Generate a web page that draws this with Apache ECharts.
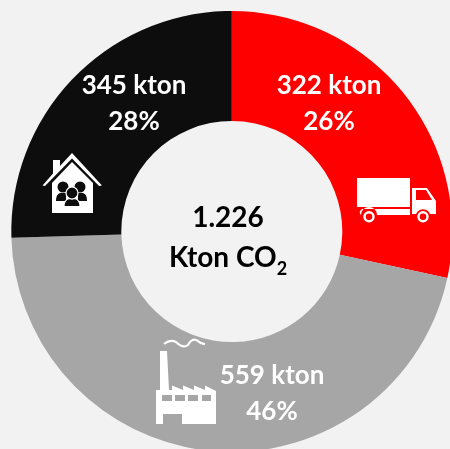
<!DOCTYPE html>
<html><head><meta charset="utf-8">
<style>html,body{margin:0;padding:0;background:#f2f2f2}#c{width:450px;height:449px}</style>
<script src="https://cdn.jsdelivr.net/npm/echarts@6/dist/echarts.min.js"></script></head>
<body><div id="c"></div>
<script>
const categories = ['Transport', 'Industry', 'Households'];
// arc sizes as drawn in the picture (they differ slightly from the printed amounts)
const arcValues = [348, 566, 312];
const amounts = ['322 kton', '559 kton', '345 kton'];
const shares = ['26%', '46%', '28%'];
const colors = ['#ff0000', '#a6a6a6', '#0d0d0d'];
const totalLines = ['1.226', 'Kton CO'];

const labelPos = [[329, 103.5], [272, 393.5], [134, 103.5]];
const font = 'Lato';
const ringCenter = [231.8, 231.5];

const truck = 'M357 178H410V207H357Z M412 188H427L436 201V214H430A7.5 7.5 0 0 0 416 214H412Z M416 190V200H432L426 190Z M362 209H410V215H377A8 8 0 0 0 361 215Q358 212 362 209Z';
const wheel = 'M369 211A5.7 5.7 0 1 1 368.99 211Z M369 213.4A3.3 3.3 0 1 0 369.01 213.4Z M423 211A5.7 5.7 0 1 1 422.99 211Z M423 213.4A3.3 3.3 0 1 0 423.01 213.4Z';
const roof = 'M72 153L102 185.5L99 186L72 158.5L45 186L42.5 185.5L53 173.5V160H60V166Z';
const walls = 'M72 162L93 183V213H52V183Z';
const sidePeople = 'M63 181.5A5.5 5.5 0 1 1 62.99 181.5Z M80 181.5A5.5 5.5 0 1 1 79.99 181.5Z M56 201Q56 194 60 193H66V201Z M87 201Q87 194 83 193H78V201Z';
const frontPerson = 'M72 187A6 6 0 1 1 71.99 187Z M64 206.5Q64 200 69 198.5Q72 200 75 198.5Q80 200 80 206.5Z';
const factory = 'M160 351H167L169 390H172V385.5L183 390V385.5L194 390V385.5L205 390V385.5L216 391V424H182V414H163V424H156V390H160Z';
const windows = 'M162 395H172V401H162Z M175 395H185V401H175Z M188 395H198V401H188Z M202 395H211V401H202Z';
const smoke = 'M164 344Q170 339 176 342Q183 349 188 345Q192 337 198 341Q201 344 205 344';

const white = { fill: '#fff' };
const icons = [
  { d: truck, style: white },
  { d: wheel, style: white },
  { d: roof, style: white },
  { d: walls, style: white },
  { d: sidePeople, style: { fill: '#0d0d0d' } },
  { d: frontPerson, style: { fill: '#0d0d0d', stroke: '#fff', lineWidth: 1.2 } },
  { d: factory, style: white },
  { d: windows, style: { fill: '#a6a6a6' } },
  { d: smoke, style: { fill: 'none', stroke: '#fff', lineWidth: 2.2 } }
];

const chart = echarts.init(document.getElementById('c'));
chart.setOption({
  animation: false,
  backgroundColor: '#f2f2f2',
  series: [
    {
      type: 'pie', center: ringCenter, radius: [0, 110.5], silent: true, z: 1,
      data: [{ value: 1, name: 'total' }],
      itemStyle: { color: '#f2f2f2' },
      labelLine: { show: false },
      label: {
        show: true, position: 'center', color: '#000', fontFamily: font, fontWeight: 'bold',
        formatter: totalLines[0] + '\n{m|' + totalLines[1] + '}{s|2}',
        fontSize: 28, lineHeight: 40,
        rich: {
          m: { fontFamily: font, fontWeight: 'bold', fontSize: 28, color: '#000', lineHeight: 40 },
          s: { fontFamily: font, fontWeight: 'bold', fontSize: 18, color: '#000', verticalAlign: 'bottom', padding: [14, 0, 0, 0], lineHeight: 20 }
        }
      },
      labelLayout: () => ({ x: 228, y: 238, align: 'center', verticalAlign: 'middle' })
    },
    {
      type: 'pie', center: ringCenter, radius: [110.5, 220.5], startAngle: 90, clockwise: true, z: 2,
      silent: true,
      data: categories.map((n, i) => ({ name: n, value: arcValues[i], itemStyle: { color: colors[i] } })),
      labelLine: { show: false },
      label: {
        show: true, position: 'inside', color: '#fff', fontFamily: font, fontWeight: 'bold', fontSize: 26, lineHeight: 36,
        formatter: p => amounts[p.dataIndex] + '\n' + shares[p.dataIndex]
      },
      labelLayout: p => ({ x: labelPos[p.dataIndex][0], y: labelPos[p.dataIndex][1], align: 'center', verticalAlign: 'middle' })
    },
    {
      type: 'custom', coordinateSystem: 'none', silent: true, z: 5, data: [0],
      renderItem: () => ({
        type: 'group',
        children: icons.map(ic => ({ type: 'path', shape: { pathData: ic.d }, style: ic.style }))
      })
    }
  ]
});
</script></body></html>
